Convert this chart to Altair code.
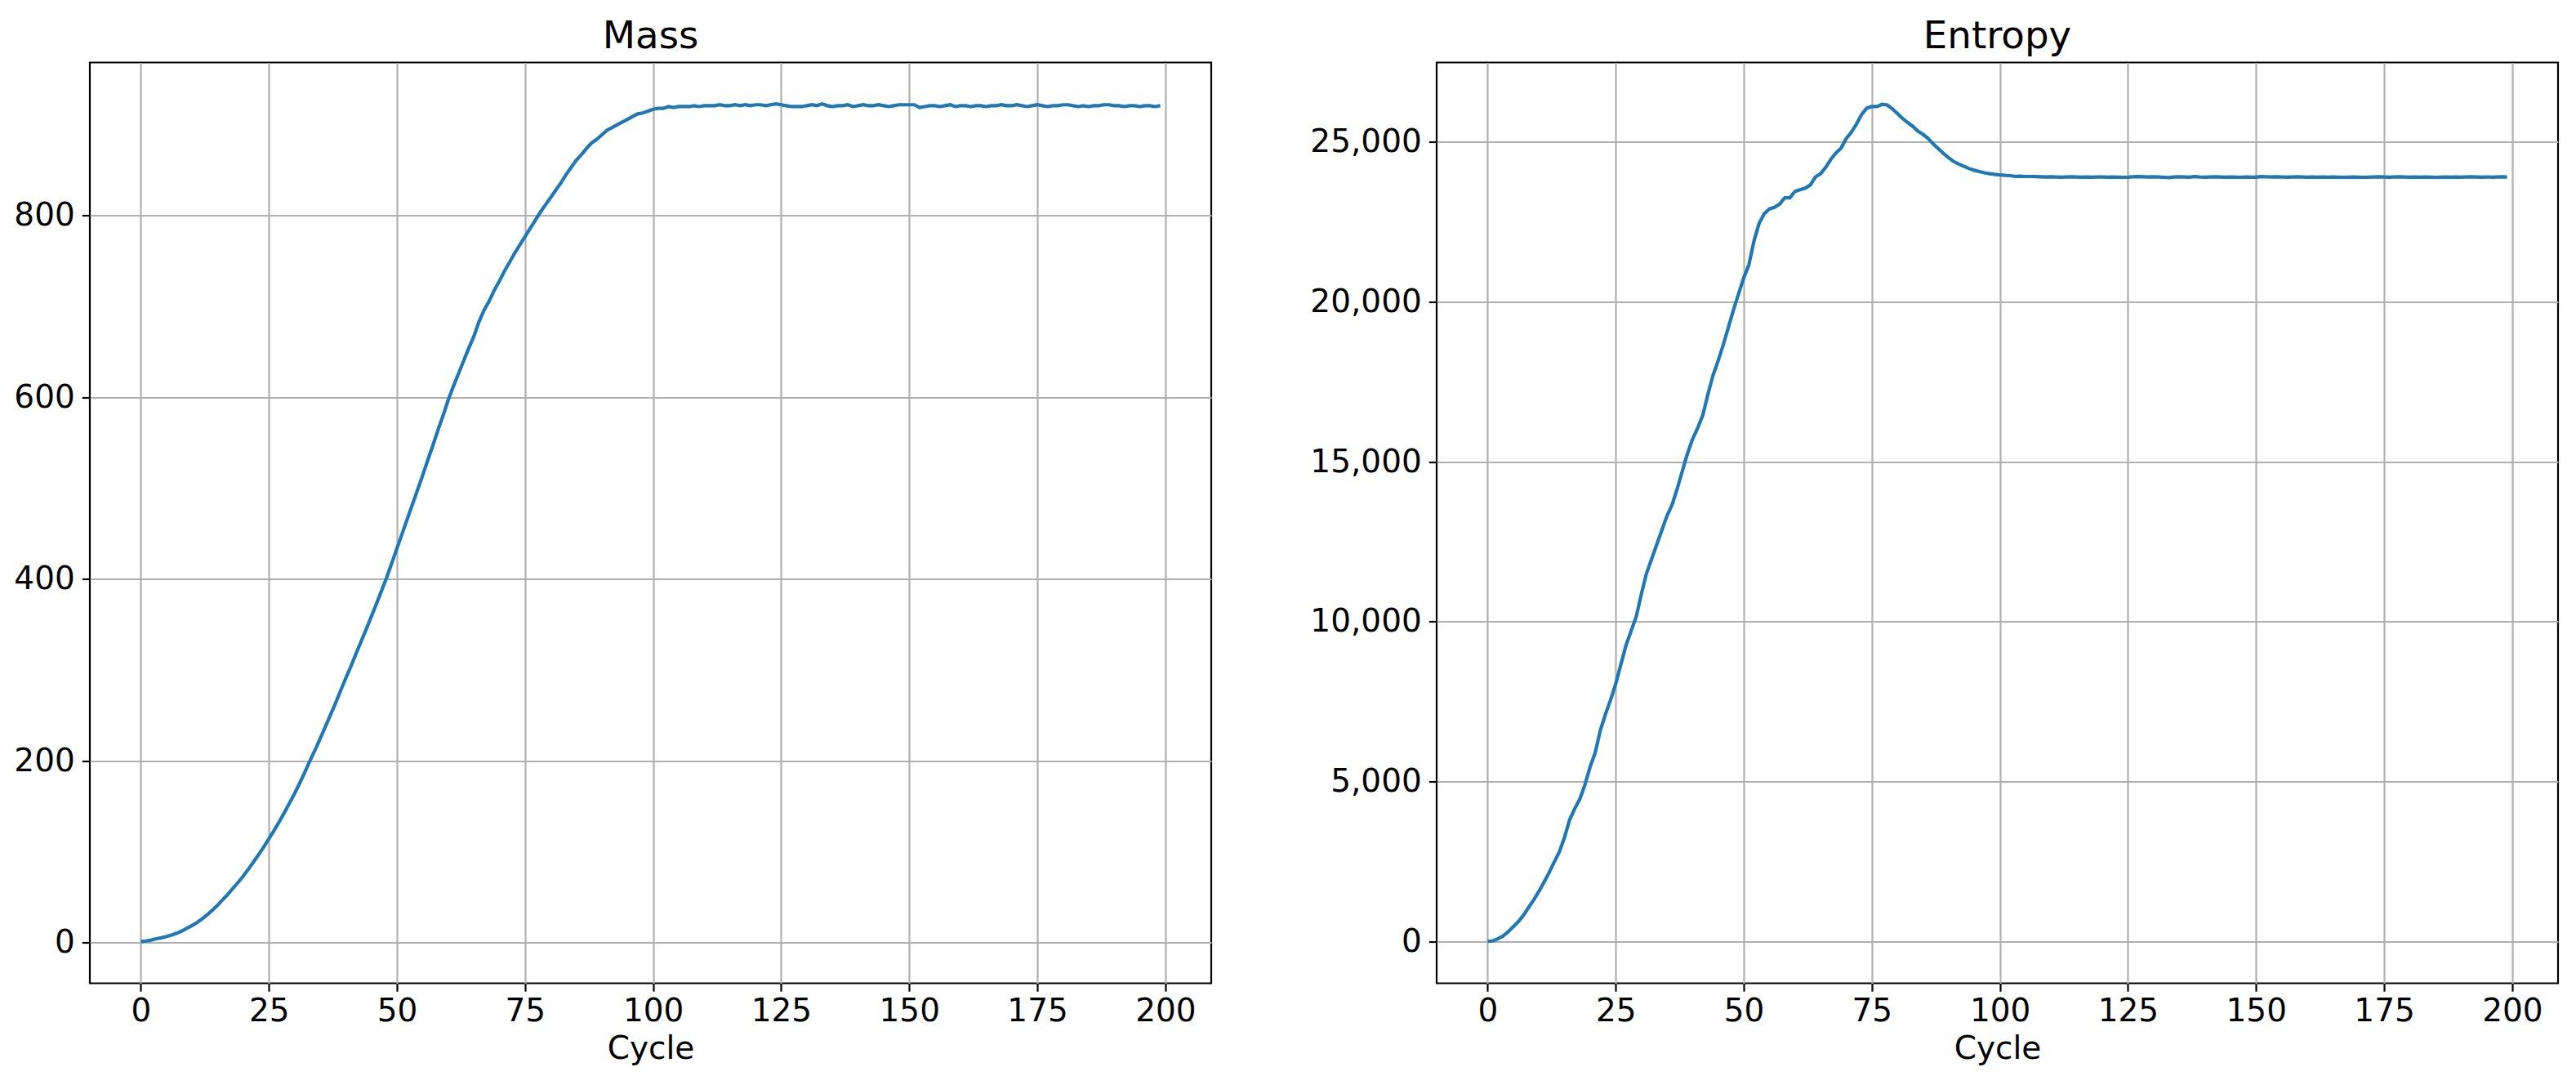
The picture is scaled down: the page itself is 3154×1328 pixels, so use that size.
import altair as alt
import pandas as pd

cycles = list(range(200))

mass = [
    1.5, 2, 3, 4.5, 5.5, 7, 8.5, 10.5, 13, 16,
    19, 22.5, 26.5, 31, 36, 41.5, 47.5, 53.5, 60, 66.5,
    73.5, 81, 89, 97, 105.5, 114.5, 123.5, 133, 143, 153.5,
    164, 175.5, 187.5, 200, 212, 224.5, 237.5, 250.5, 263.5, 277.5,
    291, 304, 318, 331.5, 345, 359, 373, 387.5, 402, 418,
    434, 450, 466, 482, 498, 514, 531, 547, 564, 580,
    597, 612, 626, 640, 654, 667, 683, 696, 706, 718,
    728, 739, 749, 759, 768, 777, 786, 795, 804, 812,
    820, 828, 836, 845, 853, 861, 867, 874, 880, 884,
    889, 894, 897, 900, 903, 906, 909, 912, 913, 915,
    917, 918, 918, 920, 919, 920, 920, 920, 921, 920,
    921, 921, 921, 922, 921, 921, 922, 921, 922, 921,
    922, 922, 921, 922, 923, 922, 921, 920, 920, 920,
    921, 922, 921, 923, 921, 920, 921, 921, 922, 920,
    921, 922, 921, 921, 922, 921, 920, 921, 922, 922,
    922, 922, 919, 920, 921, 921, 920, 921, 922, 920,
    921, 921, 920, 921, 921, 920, 921, 921, 922, 921,
    921, 922, 921, 920, 921, 922, 921, 920, 921, 921,
    922, 922, 921, 920, 921, 920, 921, 921, 922, 922,
    921, 921, 920, 921, 921, 920, 921, 921, 920, 921,
]

entropy = [
    0, 20, 80, 170, 300, 460, 620, 820, 1060, 1300,
    1560, 1850, 2150, 2480, 2800, 3250, 3800, 4150, 4450, 4900,
    5450, 5900, 6600, 7100, 7550, 8050, 8650, 9250, 9700, 10150,
    10850, 11500, 11950, 12400, 12850, 13300, 13650, 14150, 14700, 15250,
    15700, 16050, 16450, 17100, 17700, 18150, 18650, 19200, 19750, 20250,
    20750, 21150, 21900, 22450, 22750, 22900, 22950, 23050, 23250, 23250,
    23450, 23500, 23550, 23650, 23900, 24000, 24200, 24450, 24650, 24800,
    25100, 25300, 25550, 25850, 26050, 26100, 26100, 26170, 26150, 26030,
    25880, 25730, 25600, 25480, 25330, 25230, 25100, 24930, 24780, 24630,
    24500, 24380, 24300, 24230, 24160, 24110, 24070, 24030, 24000, 23980,
    23965, 23950, 23940, 23920, 23925, 23915, 23915, 23910, 23905, 23900,
    23905, 23900, 23895, 23900, 23905, 23900, 23895, 23900, 23895, 23900,
    23900, 23895, 23900, 23895, 23890, 23895, 23905, 23910, 23905, 23900,
    23905, 23900, 23890, 23880, 23900, 23905, 23900, 23895, 23910, 23900,
    23895, 23900, 23905, 23900, 23895, 23900, 23895, 23890, 23900, 23895,
    23895, 23910, 23905, 23900, 23905, 23900, 23895, 23900, 23905, 23900,
    23895, 23900, 23895, 23900, 23895, 23900, 23895, 23890, 23895, 23900,
    23895, 23890, 23895, 23900, 23905, 23900, 23895, 23900, 23905, 23900,
    23895, 23900, 23895, 23900, 23895, 23890, 23895, 23900, 23895, 23900,
    23895, 23900, 23905, 23900, 23895, 23900, 23895, 23900, 23905, 23900,
]

x_ticks = [0, 25, 50, 75, 100, 125, 150, 175, 200]
mass_ticks = [0, 200, 400, 600, 800]
entropy_ticks = [0, 5000, 10000, 15000, 20000, 25000]

df = pd.DataFrame({"Cycle": cycles, "Mass": mass, "Entropy": entropy})

FONT = "DejaVu Sans"


def panel(field, title, ydomain, yticks, yfmt, yext):
    return (
        alt.Chart(df)
        .mark_line(color="#1f77b4", strokeWidth=4.2, clip=True)
        .encode(
            x=alt.X(
                "Cycle:Q",
                scale=alt.Scale(domain=[-9.95, 208.95], nice=False, zero=False),
                axis=alt.Axis(
                    values=x_ticks,
                    title="Cycle",
                    format="d",
                    labelPadding=5.5,
                    titlePadding=7,
                    labelFlush=False,
                    labelOverlap=False,
                ),
            ),
            y=alt.Y(
                f"{field}:Q",
                scale=alt.Scale(domain=ydomain, nice=False, zero=False),
                axis=alt.Axis(
                    values=yticks,
                    title=None,
                    format=yfmt,
                    minExtent=yext,
                    maxExtent=yext,
                    labelPadding=9,
                    labelOverlap=False,
                ),
            ),
        )
        .properties(
            width=1373,
            height=1127,
            title=alt.TitleParams(
                title,
                frame="group",
                offset=-39,
                baseline="bottom",
                fontSize=46.7,
                fontWeight="normal",
                font=FONT,
                color="black",
            ),
        )
    )


left = panel("Mass", "Mass", [-44.5, 968.5], mass_ticks, "d", 100.6)
right = panel("Entropy", "Entropy", [-1308, 27478], entropy_ticks, ",d", 160)

chart = (
    alt.hconcat(left, right, spacing=112)
    .configure_view(stroke="black", strokeWidth=2.2)
    .configure_axis(
        labelFont=FONT,
        labelFontSize=39,
        labelColor="black",
        titleFont=FONT,
        titleFontSize=39,
        titleFontWeight="normal",
        titleColor="black",
        domain=False,
        grid=True,
        gridColor="#b0b0b0",
        gridWidth=2.2,
        tickColor="black",
        tickWidth=2.2,
        tickSize=9.7,
    )
    .properties(padding={"left": 0, "top": 12.5, "right": 0, "bottom": 0})
)

chart.save("out.html", embed_options={"renderer": "svg", "actions": False})
